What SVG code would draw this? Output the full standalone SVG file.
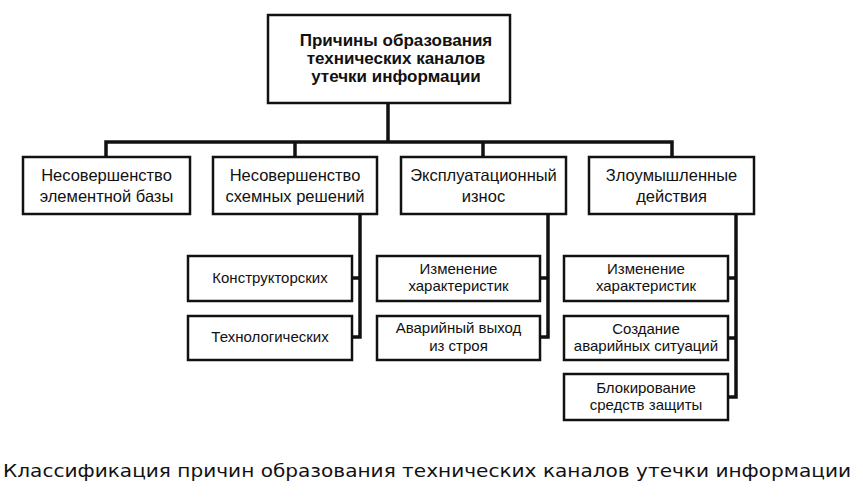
<svg xmlns="http://www.w3.org/2000/svg" width="863" height="497" viewBox="0 0 863 497">
<style>
.box{fill:#fff;stroke:#111;stroke-width:2.5}
.ln{fill:none;stroke:#111;stroke-width:3.5;stroke-linejoin:miter;stroke-linecap:square}
.t{font-family:"Liberation Sans",Arial,sans-serif;fill:#111;text-anchor:middle}
.h{font-size:17px;font-weight:bold}
.m{font-size:16.5px}
.s{font-size:15px}
.cap{font-family:"DejaVu Sans",sans-serif;font-size:18.5px;fill:#111}
</style>
<rect width="863" height="497" fill="#fff"/>
<g id="connectors">
<path class="ln" d="M388,103 V142 M106,157 V142 H672 V157 M295,142 V157 M483,142 V157"/>
<path class="ln" d="M360,214 V337 H352 M352,278 H360"/>
<path class="ln" d="M548,214 V337 H540 M540,278 H548"/>
<path class="ln" d="M736,214 V397 H728 M728,278 H736 M728,338 H736"/>
</g>
<g id="root">
<rect class="box" x="268" y="15" width="242" height="88"/>
<text class="t h" x="396" y="46">Причины образования</text>
<text class="t h" x="396" y="64">технических каналов</text>
<text class="t h" x="396" y="82">утечки информации</text>
</g>
<g id="n1">
<rect class="box" x="23" y="157" width="167" height="57"/>
<text class="t m" x="106.5" y="181">Несовершенство</text>
<text class="t m" x="106.5" y="202">элементной базы</text>
</g>
<g id="n2">
<rect class="box" x="213" y="157" width="164" height="57"/>
<text class="t m" x="295" y="181">Несовершенство</text>
<text class="t m" x="295" y="202">схемных решений</text>
</g>
<g id="n3">
<rect class="box" x="401" y="157" width="165" height="57"/>
<text class="t m" x="483.5" y="181">Эксплуатационный</text>
<text class="t m" x="483.5" y="202">износ</text>
</g>
<g id="n4">
<rect class="box" x="589" y="157" width="165" height="57"/>
<text class="t m" x="671.5" y="181">Злоумышленные</text>
<text class="t m" x="671.5" y="202">действия</text>
</g>
<g id="n2a">
<rect class="box" x="188" y="256" width="164" height="45"/>
<text class="t s" x="270" y="283">Конструкторских</text>
</g>
<g id="n2b">
<rect class="box" x="188" y="316" width="164" height="44"/>
<text class="t s" x="270" y="342">Технологических</text>
</g>
<g id="n3a">
<rect class="box" x="377" y="256" width="163" height="45"/>
<text class="t s" x="458.5" y="274">Изменение</text>
<text class="t s" x="458.5" y="291">характеристик</text>
</g>
<g id="n3b">
<rect class="box" x="377" y="316" width="163" height="44"/>
<text class="t s" x="458.5" y="333">Аварийный выход</text>
<text class="t s" x="458.5" y="351">из строя</text>
</g>
<g id="n4a">
<rect class="box" x="564" y="256" width="164" height="45"/>
<text class="t s" x="646" y="274">Изменение</text>
<text class="t s" x="646" y="291">характеристик</text>
</g>
<g id="n4b">
<rect class="box" x="564" y="316" width="164" height="44"/>
<text class="t s" x="646" y="334">Создание</text>
<text class="t s" x="646" y="351">аварийных ситуаций</text>
</g>
<g id="n4c">
<rect class="box" x="564" y="374" width="164" height="46"/>
<text class="t s" x="646" y="393">Блокирование</text>
<text class="t s" x="646" y="410">средств защиты</text>
</g>
<text class="cap" x="3" y="477" textLength="848" lengthAdjust="spacingAndGlyphs">Классификация причин образования технических каналов утечки информации</text>
</svg>
